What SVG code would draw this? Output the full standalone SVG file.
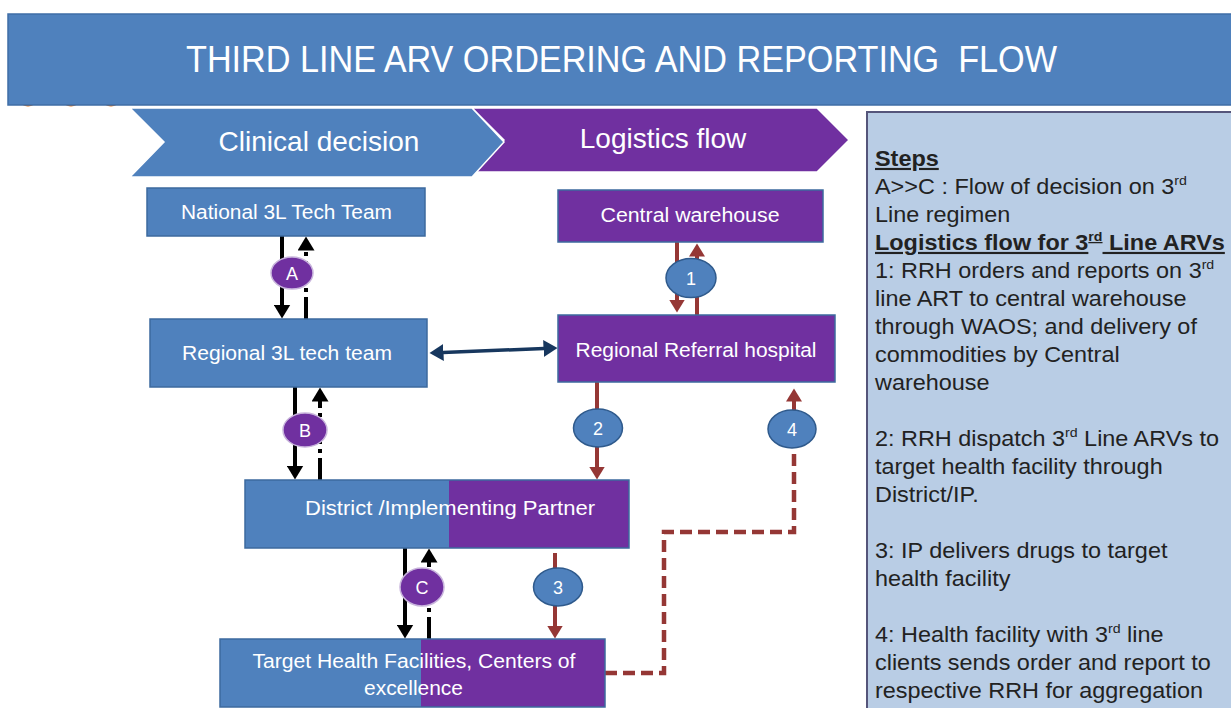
<svg xmlns="http://www.w3.org/2000/svg" width="1231" height="708" viewBox="0 0 1231 708">
<style>
  .box-blue { fill: #4f81bd; }
  .box-purple { fill: #7030a0; }
  .outline { fill: none; stroke: #3c6a9e; stroke-width: 1.5; }
  .lbl { font-family: "Liberation Sans", Arial, sans-serif; fill: #ffffff; text-anchor: middle; }
  .node-lbl { font-size: 19.5px; }
  .circ-purple { fill: #7030a0; stroke: #c8b4dc; stroke-width: 1.5; }
  .circ-blue { fill: #4f81bd; stroke: #2f5a8c; stroke-width: 1.5; }
  .circ-lbl { font-size: 18px; }
  .blk { stroke: #000000; stroke-width: 4; fill: none; }
  .blk-dd { stroke: #000000; stroke-width: 4; fill: none; stroke-dasharray: 22 5 4 5; }
  .red { stroke: #953735; stroke-width: 4; fill: none; }
  .red-dash { stroke: #953735; stroke-width: 4.5; fill: none; stroke-dasharray: 12 6; }
  .navy { stroke: #17375e; stroke-width: 3.5; fill: none; }
  .panel { font-family: "Liberation Sans", Arial, sans-serif; font-size: 21.5px; fill: #222222; }
  .bold-u { font-weight: bold; text-decoration: underline; }
</style>
<defs>
  <marker id="ah-red" markerUnits="userSpaceOnUse" markerWidth="14" markerHeight="16" refX="0.5" refY="8" orient="auto">
    <path d="M0,0 L13,8 L0,16 z" fill="#953735"/>
  </marker>
  <marker id="ah-blk" markerUnits="userSpaceOnUse" markerWidth="15" markerHeight="17" refX="0.5" refY="8.5" orient="auto">
    <path d="M0,0 L14,8.5 L0,17 z" fill="#000000"/>
  </marker>
  <marker id="ah-navy" markerUnits="userSpaceOnUse" markerWidth="15" markerHeight="17" refX="0.5" refY="8.5" orient="auto-start-reverse">
    <path d="M0,0 L14,8.5 L0,17 z" fill="#17375e"/>
  </marker>
</defs>

<rect x="0" y="0" width="1231" height="708" fill="#ffffff"/>

<!-- small orange remnants under banner -->
<g id="remnants" fill="none" stroke="#e46c0a" stroke-width="2">
  <ellipse cx="28" cy="101" rx="7" ry="4.5"/>
  <ellipse cx="71" cy="101" rx="7" ry="4.5"/>
  <ellipse cx="111" cy="101" rx="7" ry="4.5"/>
</g>

<!-- title banner -->
<g id="title">
  <rect x="8" y="14" width="1232" height="91" fill="#4f81bd" stroke="#3f6ea6" stroke-width="1.5"/>
  <text x="186" y="72" xml:space="preserve" font-family="Liberation Sans, Arial, sans-serif" font-size="37" fill="#ffffff" textLength="871" lengthAdjust="spacingAndGlyphs">THIRD LINE ARV ORDERING AND REPORTING  FLOW</text>
</g>

<!-- chevrons -->
<g id="chevron-logistics">
  <path d="M472,108 L817,108 L849,140 L817,172 L476,172 L504,140 Z" fill="#7030a0" stroke="#ffffff" stroke-width="1.5"/>
  <text class="lbl" x="663" y="148" font-size="28">Logistics flow</text>
</g>
<g id="chevron-clinical">
  <path d="M130,108 L472,108 L504,142 L472,177 L130,177 L164,142 Z" fill="#4f81bd" stroke="#ffffff" stroke-width="1.5"/>
  <text class="lbl" x="319" y="151" font-size="28">Clinical decision</text>
</g>

<!-- steps panel -->
<g id="steps-panel">
  <rect x="867" y="112" width="380" height="610" fill="#b9cde5" stroke="#55557a" stroke-width="2"/>
  <g transform="translate(875,0) scale(1.09,1) translate(-875,0)">
  <text class="panel">
    <tspan x="875" y="166" class="bold-u">Steps</tspan>
    <tspan x="875" y="194">A&gt;&gt;C : Flow of decision on 3</tspan><tspan font-size="13" dy="-9">rd</tspan>
    <tspan x="875" y="222">Line regimen</tspan>
    <tspan x="875" y="250" class="bold-u">Logistics flow for 3</tspan><tspan class="bold-u" font-size="13" dy="-9">rd</tspan><tspan class="bold-u" dy="9"> Line ARVs</tspan>
    <tspan x="875" y="278">1: RRH orders and reports on 3</tspan><tspan font-size="13" dy="-9">rd</tspan>
    <tspan x="875" y="306">line ART to central warehouse</tspan>
    <tspan x="875" y="334">through WAOS; and delivery of</tspan>
    <tspan x="875" y="362">commodities by Central</tspan>
    <tspan x="875" y="390">warehouse</tspan>
    <tspan x="875" y="446">2: RRH dispatch 3</tspan><tspan font-size="13" dy="-9">rd</tspan><tspan dy="9"> Line ARVs  to</tspan>
    <tspan x="875" y="474">target health facility through</tspan>
    <tspan x="875" y="502">District/IP.</tspan>
    <tspan x="875" y="558">3: IP delivers drugs to target</tspan>
    <tspan x="875" y="586">health facility</tspan>
    <tspan x="875" y="642">4: Health facility with 3</tspan><tspan font-size="13" dy="-9">rd</tspan><tspan dy="9"> line</tspan>
    <tspan x="875" y="670">clients sends order and report to</tspan>
    <tspan x="875" y="698">respective RRH for aggregation</tspan>
  </text>
  </g>
</g>

<!-- connectors -->
<g id="connectors">
  <!-- A -->
  <line class="blk" x1="282" y1="236" x2="282" y2="305" marker-end="url(#ah-blk)"/>
  <line class="blk-dd" x1="306" y1="319" x2="306" y2="250" marker-end="url(#ah-blk)"/>
  <!-- B -->
  <line class="blk" x1="295" y1="387" x2="295" y2="466" marker-end="url(#ah-blk)"/>
  <line class="blk-dd" x1="320" y1="480" x2="320" y2="401" marker-end="url(#ah-blk)"/>
  <!-- C -->
  <line class="blk" x1="405" y1="548" x2="405" y2="625" marker-end="url(#ah-blk)"/>
  <line class="blk-dd" x1="429" y1="639" x2="429" y2="562" marker-end="url(#ah-blk)"/>
  <!-- regional tech team <-> RRH -->
  <line class="navy" x1="443" y1="352.5" x2="544" y2="348.5" marker-start="url(#ah-navy)" marker-end="url(#ah-navy)"/>
  <!-- 1 -->
  <line class="red" x1="677" y1="242" x2="677" y2="300" marker-end="url(#ah-red)"/>
  <line class="red" x1="697" y1="315" x2="697" y2="256" marker-end="url(#ah-red)"/>
  <!-- 2 -->
  <line class="red" x1="597" y1="382" x2="597" y2="467" marker-end="url(#ah-red)"/>
  <!-- 3 -->
  <line class="red" x1="555" y1="553" x2="555" y2="626" marker-end="url(#ah-red)"/>
  <!-- 4 -->
  <polyline class="red-dash" points="605,673 664,673 664,532 794,532 794,440"/>
  <line class="red" x1="794" y1="430" x2="794" y2="401" marker-end="url(#ah-red)"/>
</g>

<!-- nodes -->
<g id="node-national">
  <rect class="box-blue" x="147" y="188" width="278" height="48"/>
  <rect class="outline" x="147" y="188" width="278" height="48"/>
  <text class="lbl node-lbl" x="286.5" y="219" textLength="211" lengthAdjust="spacingAndGlyphs">National 3L Tech Team</text>
</g>
<g id="node-central-warehouse">
  <rect class="box-purple" x="558" y="190" width="265" height="52"/>
  <rect class="outline" x="558" y="190" width="265" height="52"/>
  <text class="lbl node-lbl" x="690" y="222" textLength="179" lengthAdjust="spacingAndGlyphs">Central warehouse</text>
</g>
<g id="node-regional-tech">
  <rect class="box-blue" x="150" y="319" width="277" height="68"/>
  <rect class="outline" x="150" y="319" width="277" height="68"/>
  <text class="lbl node-lbl" x="287" y="360" textLength="210" lengthAdjust="spacingAndGlyphs">Regional 3L tech team</text>
</g>
<g id="node-rrh">
  <rect class="box-purple" x="558" y="315" width="277" height="67"/>
  <rect class="outline" x="558" y="315" width="277" height="67"/>
  <text class="lbl node-lbl" x="696" y="357" textLength="241" lengthAdjust="spacingAndGlyphs">Regional Referral hospital</text>
</g>
<g id="node-district">
  <rect class="box-blue" x="245" y="480" width="384" height="68"/>
  <rect class="box-purple" x="449" y="480" width="180" height="68"/>
  <rect class="outline" x="245" y="480" width="384" height="68"/>
  <text class="lbl node-lbl" x="450" y="515" textLength="290" lengthAdjust="spacingAndGlyphs">District /Implementing Partner</text>
</g>
<g id="node-target">
  <rect class="box-blue" x="220" y="639" width="385" height="68"/>
  <rect class="box-purple" x="421" y="639" width="184" height="68"/>
  <rect class="outline" x="220" y="639" width="385" height="68"/>
  <text class="lbl node-lbl" x="414" y="668" textLength="323" lengthAdjust="spacingAndGlyphs">Target Health Facilities, Centers of</text>
  <text class="lbl node-lbl" x="413.5" y="695" textLength="99" lengthAdjust="spacingAndGlyphs">excellence</text>
</g>

<g id="step-A">
  <ellipse class="circ-purple" cx="292" cy="273" rx="21" ry="16"/>
  <text class="lbl circ-lbl" x="292" y="279.5">A</text>
</g>
<g id="step-B">
  <ellipse class="circ-purple" cx="305" cy="430" rx="22" ry="17"/>
  <text class="lbl circ-lbl" x="305" y="436.5">B</text>
</g>
<g id="step-C">
  <ellipse class="circ-purple" cx="422" cy="587" rx="22" ry="19"/>
  <text class="lbl circ-lbl" x="422" y="593.5">C</text>
</g>
<g id="step-1">
  <ellipse class="circ-blue" cx="691" cy="278" rx="25" ry="19.5"/>
  <text class="lbl circ-lbl" x="691" y="284.5">1</text>
</g>
<g id="step-2">
  <ellipse class="circ-blue" cx="598" cy="428" rx="24.5" ry="19"/>
  <text class="lbl circ-lbl" x="598" y="434.5">2</text>
</g>
<g id="step-3">
  <ellipse class="circ-blue" cx="558" cy="587" rx="24.5" ry="19"/>
  <text class="lbl circ-lbl" x="558" y="593.5">3</text>
</g>
<g id="step-4">
  <ellipse class="circ-blue" cx="792" cy="429" rx="24" ry="19"/>
  <text class="lbl circ-lbl" x="792" y="435.5">4</text>
</g>
</svg>
